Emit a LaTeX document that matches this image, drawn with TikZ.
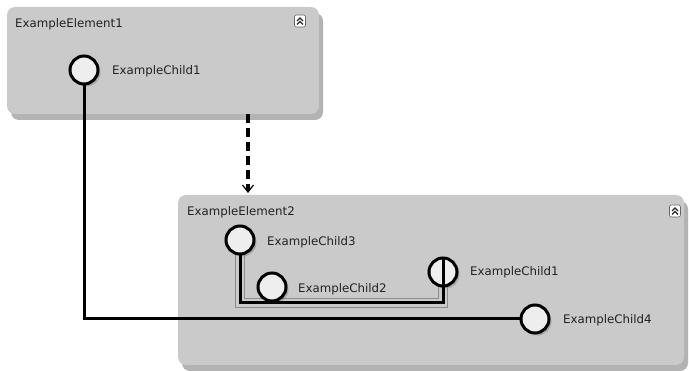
\documentclass[tikz,border=0pt]{standalone}
\usepackage{fontspec}
\setmainfont{DejaVu Sans}
\usetikzlibrary{arrows.meta,shadows}
\definecolor{boxfill}{HTML}{CACACA}
\definecolor{boxshade}{HTML}{B3B3B3}
\definecolor{portfill}{HTML}{EEEEEE}
\definecolor{txt}{HTML}{222222}
\definecolor{hilite}{HTML}{8C8C8C}
\tikzset{
  elembox/.style={rectangle, rounded corners=8pt, fill=boxfill, inner sep=0pt, outer sep=0pt,
    drop shadow={shadow xshift=4pt, shadow yshift=-6pt, fill=boxshade, opacity=1}},
  port/.style={circle, draw=black, line width=3pt, fill=portfill, minimum size=28pt, inner sep=0pt, outer sep=0pt,
    drop shadow={shadow xshift=2.5pt, shadow yshift=-2.5pt, fill=black!50, opacity=0.45}},
  lbl/.style={anchor=west, inner sep=0pt, text=txt, font=\fontsize{11.8}{14}\selectfont},
  icon/.style={rectangle, rounded corners=2pt, draw=black!60, line width=0.6pt, fill=white, minimum width=11pt, minimum height=12pt, inner sep=0pt},
  chev/.style={draw=black!85, line width=1.1pt},
  wire/.style={draw=black, line width=3pt},
  hiout/.style={draw=hilite, line width=9.5pt},
  hiin/.style={draw=boxfill, line width=7.5pt},
  dasharrow/.style={draw=black, line width=3.2pt, dash pattern=on 9pt off 5pt, -{Straight Barb[length=7pt,width=11pt,line width=1.2pt]}},
}
\begin{document}
\begin{tikzpicture}[x=1pt,y=-1pt]
\useasboundingbox (0,0) rectangle (689,371);
% element boxes
\node[elembox, minimum width=312pt, minimum height=107pt] (e1) at (163,60.5) {};
\node[elembox, minimum width=506pt, minimum height=170pt] (e2) at (431,280) {};
% titles
\node[lbl] (t1) at (15,24) {ExampleElement1};
\node[lbl] (t2) at (187,212) {ExampleElement2};
% collapse icons
\node[icon] (i1) at (300,21) {};
\draw[chev] ([shift={(-3,0)}]i1.center) -- ([shift={(0,-3)}]i1.center) -- ([shift={(3,0)}]i1.center);
\draw[chev] ([shift={(-3,3.5)}]i1.center) -- ([shift={(0,0.5)}]i1.center) -- ([shift={(3,3.5)}]i1.center);
\node[icon] (i2) at (675,211) {};
\draw[chev] ([shift={(-3,0)}]i2.center) -- ([shift={(0,-3)}]i2.center) -- ([shift={(3,0)}]i2.center);
\draw[chev] ([shift={(-3,3.5)}]i2.center) -- ([shift={(0,0.5)}]i2.center) -- ([shift={(3,3.5)}]i2.center);
% dashed arrow between elements
\coordinate (d1) at (248,114);
\coordinate (d2) at (248,193);
\draw[dasharrow] (d1) -- (d2);
% corner of inner connector
\coordinate (k) at (443,303);
\coordinate (c3b) at (240,255);
\coordinate (c1bt) at (443,257);
% highlight of selected connector (under the ports)
\draw[hiout, line join=miter] (c3b) |- (k) -- (c1bt);
\draw[hiin, line join=miter] (c3b) |- (k) -- (c1bt);
% ports
\node[port] (a1) at (84,70) {};
\node[port] (c3) at (240,240) {};
\node[port] (c2) at (272,287) {};
\node[port] (c1) at (443,272) {};
\node[port] (c4) at (535,319) {};
% port labels
\node[lbl] (la1) at (112,71) {ExampleChild1};
\node[lbl] (lc3) at (267,242) {ExampleChild3};
\node[lbl] (lc2) at (298,289) {ExampleChild2};
\node[lbl] (lc1) at (470,272) {ExampleChild1};
\node[lbl] (lc4) at (563,320) {ExampleChild4};
% connectors
\draw[wire, line join=miter] (a1.south) |- (c4.west);
\draw[wire, line join=miter] (c3.south) |- (k) -- (c1.north);
\end{tikzpicture}
\end{document}
